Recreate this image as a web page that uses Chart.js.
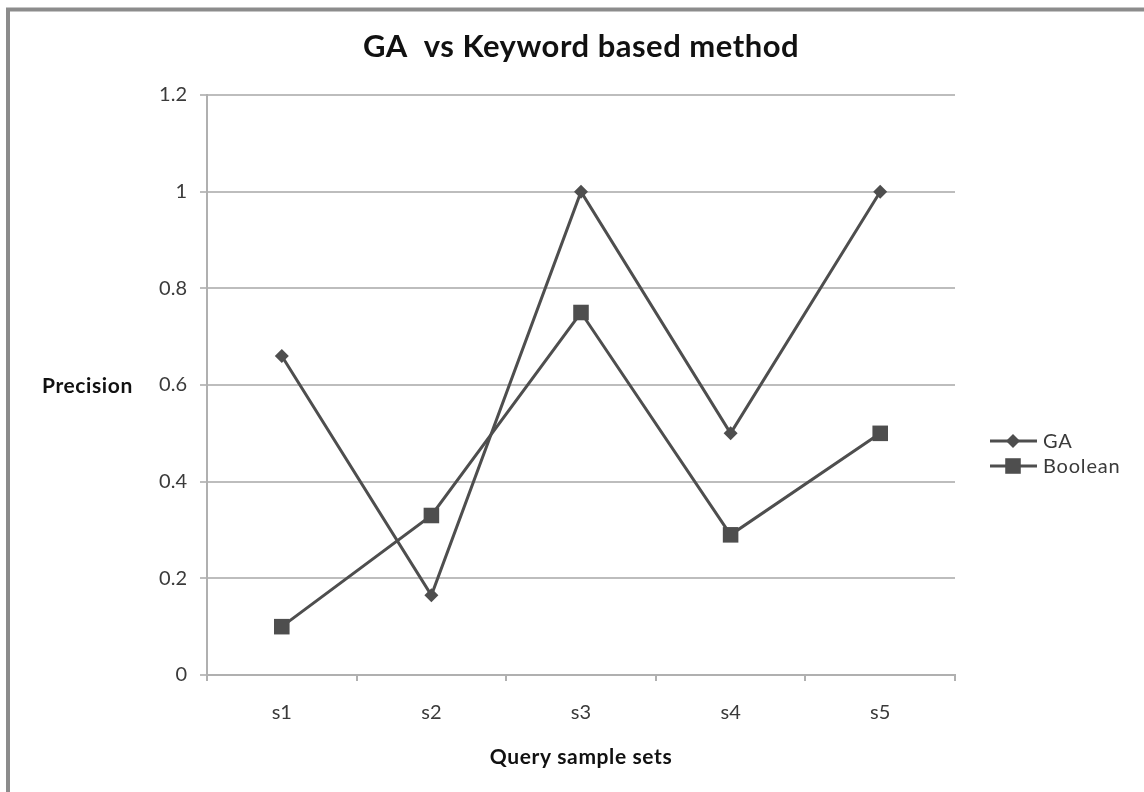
<!DOCTYPE html>
<html>
<head>
<meta charset="utf-8">
<script src="https://cdn.jsdelivr.net/npm/chart.js@4.4.0/dist/chart.umd.min.js"></script>
<style>
    html, body { margin: 0; padding: 0; background: #fff; }
    #wrap { width: 1144px; height: 792px; position: relative; }
</style>
</head>
<body>
<div id="wrap"><canvas id="chart" width="1144" height="792"></canvas></div>
<script>
const categories = ["s1", "s2", "s3", "s4", "s5"];
const gaValues = [0.66, 0.165, 1, 0.5, 1];
const booleanValues = [0.1, 0.33, 0.75, 0.29, 0.5];
const yTickLabels = ["0", "0.2", "0.4", "0.6", "0.8", "1", "1.2"];

const FONT = "Lato, 'Open Sans', sans-serif";
const LINE = "#4e4e4e";

// Titre, titres d'axes, légende et cadre dessinés à la main
const decorPlugin = {
    id: "decor",
    beforeDraw(chart) {
        const ctx = chart.ctx;
        ctx.save();
        ctx.fillStyle = "#fff";
        ctx.fillRect(0, 0, chart.width, chart.height);
        ctx.strokeStyle = "#8c8c8c";
        ctx.lineWidth = 4;
        ctx.beginPath();
        ctx.moveTo(8, chart.height);
        ctx.lineTo(8, 9.5);
        ctx.lineTo(chart.width, 9.5);
        ctx.stroke();
        ctx.restore();
    },
    afterDraw(chart) {
        const ctx = chart.ctx;
        const area = chart.chartArea;
        const midX = (area.left + area.right) / 2;
        ctx.save();
        ctx.fillStyle = "#111";
        ctx.textBaseline = "middle";
        ctx.textAlign = "center";
        ctx.font = "bold 31px " + FONT;
        ctx.letterSpacing = "0.5px";
        ctx.fillText("GA  vs Keyword based method", midX, 47);
        ctx.font = "bold 21px " + FONT;
        ctx.letterSpacing = "0.6px";
        ctx.fillText("Query sample sets", midX, 757);
        ctx.textAlign = "left";
        ctx.fillText("Precision", 42, 386);

        // légende
        ctx.font = "20px " + FONT;
        ctx.letterSpacing = "0.8px";
        chart.data.datasets.forEach((ds, i) => {
            const y = 441 + i * 25;
            ctx.strokeStyle = ds.borderColor;
            ctx.lineWidth = 3;
            ctx.beginPath();
            ctx.moveTo(990, y);
            ctx.lineTo(1037, y);
            ctx.stroke();
            ctx.fillStyle = ds.backgroundColor;
            const r = ds.pointRadius;
            ctx.beginPath();
            if (ds.pointStyle === "rectRot") {
                ctx.moveTo(1013, y - r);
                ctx.lineTo(1013 + r, y);
                ctx.lineTo(1013, y + r);
                ctx.lineTo(1013 - r, y);
                ctx.closePath();
            } else {
                const s = r * Math.SQRT1_2;
                ctx.rect(1013 - s, y - s, s * 2, s * 2);
            }
            ctx.fill();
            ctx.fillStyle = "#3a3a3a";
            ctx.fillText(ds.label, 1043, y + 1);
        });
        ctx.restore();
    }
};

new Chart(document.getElementById("chart"), {
    type: "line",
    data: {
        labels: categories,
        datasets: [
            {
                label: "GA",
                data: gaValues,
                borderColor: LINE,
                backgroundColor: LINE,
                borderWidth: 3,
                pointStyle: "rectRot",
                pointRadius: 7,
                pointBorderWidth: 0,
                tension: 0,
            },
            {
                label: "Boolean",
                data: booleanValues,
                borderColor: LINE,
                backgroundColor: LINE,
                borderWidth: 3,
                pointStyle: "rect",
                pointRadius: 11,
                pointBorderWidth: 0,
                tension: 0,
            },
        ],
    },
    options: {
        responsive: false,
        animation: false,
        devicePixelRatio: 1,
        layout: { padding: { top: 95, right: 189, bottom: 0, left: 0 } },
        scales: {
            x: {
                offset: true,
                afterFit: (scale) => { scale.height = 117; },
                grid: {
                    offset: true,
                    drawOnChartArea: false,
                    drawTicks: true,
                    tickLength: 6,
                    color: "#b0b0b0",
                    lineWidth: 2,
                },
                border: { color: "#b0b0b0", width: 2 },
                ticks: {
                    padding: 20,
                    color: "#3a3a3a",
                    font: { family: FONT, size: 20 },
                },
            },
            y: {
                min: 0,
                max: 1.2,
                afterFit: (scale) => { scale.width = 207; },
                grid: {
                    color: "#bdbdbd",
                    lineWidth: 2,
                    tickLength: 7,
                },
                border: { color: "#b0b0b0", width: 2 },
                ticks: {
                    stepSize: 0.2,
                    padding: 13,
                    color: "#3a3a3a",
                    font: { family: FONT, size: 20 },
                    callback: (value, index) => yTickLabels[index],
                },
            },
        },
        plugins: {
            legend: { display: false },
            tooltip: { enabled: false },
        },
    },
    plugins: [decorPlugin],
});
</script>
</body>
</html>
